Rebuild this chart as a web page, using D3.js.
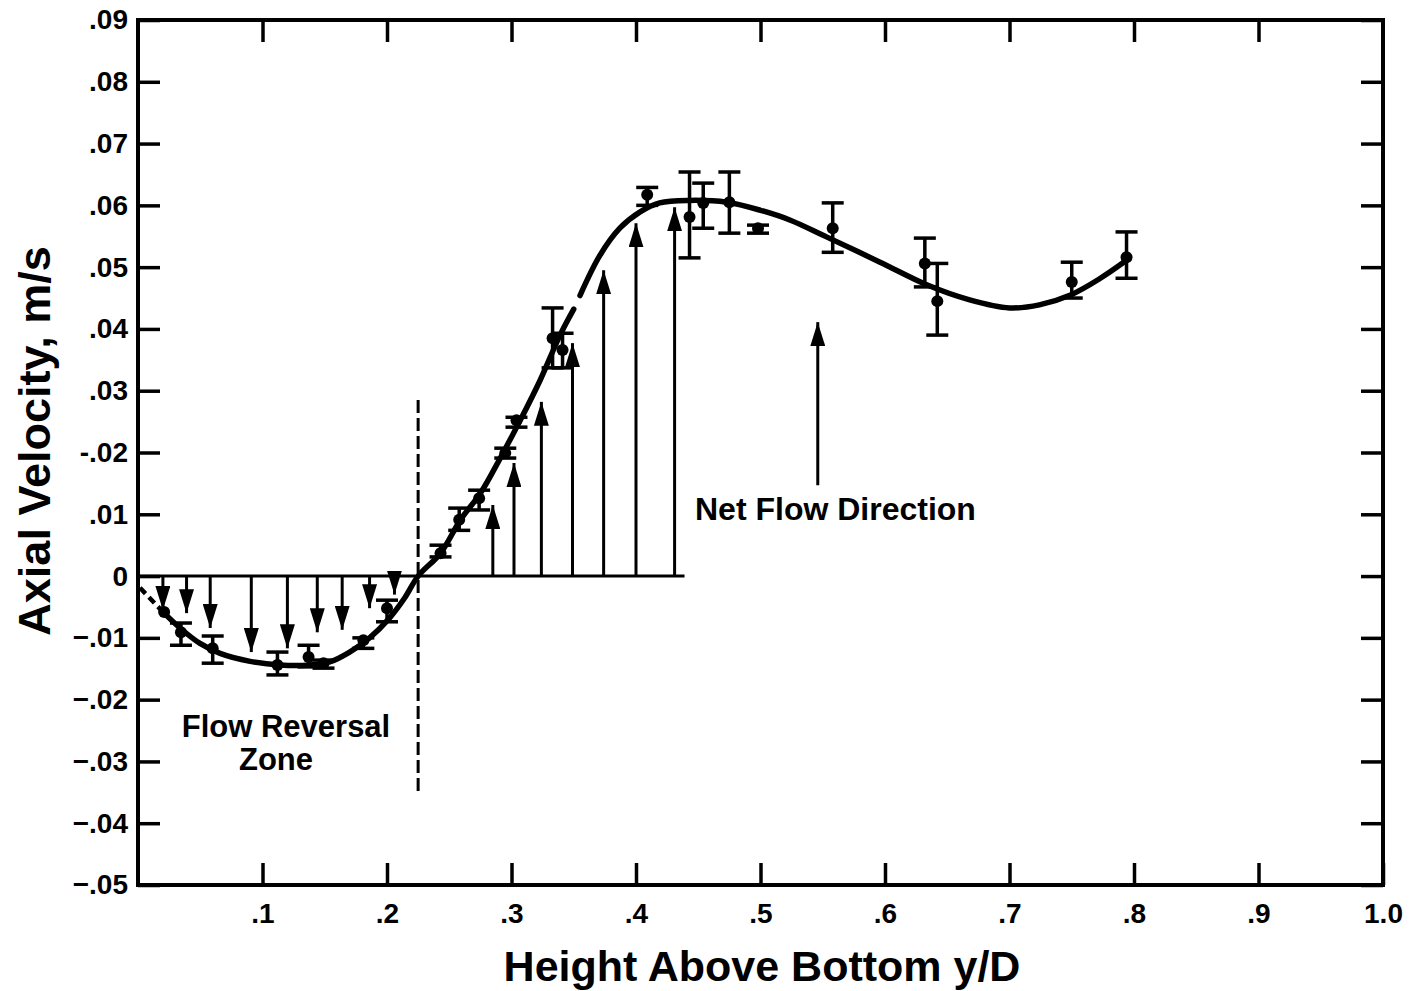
<!DOCTYPE html>
<html>
<head>
<meta charset="utf-8">
<script src="https://d3js.org/d3.v7.min.js"></script>
<style>
  body { margin: 0; background: #fff; }
  svg text { font-family: "Liberation Sans", Arial, Helvetica, sans-serif; font-weight: bold; fill: #000; }
  .tick line { stroke: #000; stroke-width: 3.5; }
  .tick text { font-size: 28px; }
  .domain { display: none; }
</style>
</head>
<body>
<svg width="1417" height="991"></svg>
<script>
// axis ticks
var xTicks = [.1, .2, .3, .4, .5, .6, .7, .8, .9, 1.0];
var xTickLabels = [".1", ".2", ".3", ".4", ".5", ".6", ".7", ".8", ".9", "1.0"];
var yTicks = [.09, .08, .07, .06, .05, .04, .03, .02, .01, 0, -.01, -.02, -.03, -.04, -.05];
var yTickLabels = [".09", ".08", ".07", ".06", ".05", ".04", ".03", "-.02", ".01", "0",
                   "\u2212.01", "\u2212.02", "\u2212.03", "\u2212.04", "\u2212.05"];

// measured points (y/D, velocity, error bar low/high)
var ptX  = [0.021, 0.0345, 0.060, 0.112, 0.137, 0.149, 0.181, 0.200, 0.243, 0.258, 0.274, 0.295, 0.304,
            0.333, 0.341, 0.409, 0.443, 0.454, 0.475, 0.498, 0.558, 0.632, 0.642, 0.750, 0.794];
var ptV  = [-0.0058, -0.0091, -0.0117, -0.0144, -0.0131, -0.0141, -0.0104, -0.0052, 0.0037, 0.0091, 0.0126, 0.0199, 0.0252,
            0.0385, 0.0366, 0.0617, 0.0581, 0.0604, 0.0605, 0.0563, 0.0563, 0.0506, 0.0445, 0.0476, 0.0516];
var ptLo = [null, -0.0112, -0.0141, -0.0160, -0.0147, -0.0149, -0.0117, -0.0074, 0.0031, 0.0074, 0.0107, 0.0191, 0.0241,
            0.0337, 0.0337, 0.0600, 0.0515, 0.0563, 0.0555, 0.0555, 0.0524, 0.0468, 0.0390, 0.0450, 0.0482];
var ptHi = [null, -0.0076, -0.0097, -0.0123, -0.0112, -0.0136, -0.0100, -0.0039, 0.0050, 0.0110, 0.0139, 0.0207, 0.0257,
            0.0434, 0.0393, 0.0629, 0.0654, 0.0636, 0.0654, 0.0568, 0.0604, 0.0547, 0.0506, 0.0508, 0.0557];

// fitted curve (null marks the small break in the line)
var curveX = [0.020, 0.0337, 0.0498, 0.0659, 0.090, 0.114, 0.138, 0.154, 0.170, 0.186, 0.202, 0.214, 0.225,
              0.243, 0.259, 0.275, 0.291, 0.307, 0.323, 0.339, 0.350, null, 0.355, 0.371, 0.387, 0.403, 0.419,
              0.443, 0.473, 0.500, 0.524, 0.553, 0.596, 0.634, 0.668, 0.700, 0.724, 0.749, 0.773, 0.794];
var curveV = [-0.0058, -0.0084, -0.0109, -0.0125, -0.0138, -0.0144, -0.0144, -0.0139, -0.0123, -0.0100, -0.0068, -0.0036, 0,
              0.0037, 0.0091, 0.0134, 0.0191, 0.0252, 0.0317, 0.0390, 0.0432, null, 0.0454, 0.0519, 0.0563, 0.0589, 0.0604,
              0.0608, 0.0605, 0.0592, 0.0576, 0.0549, 0.0508, 0.0471, 0.0447, 0.0434, 0.0439, 0.0455, 0.0482, 0.0511];
var dashX = [0.0016, 0.020];
var dashV = [-0.0019, -0.0058];

// velocity arrows from the zero line
var downX = [0.020, 0.039, 0.058, 0.091, 0.120, 0.144, 0.164, 0.186, 0.206];
var downV = [-0.0055, -0.0060, -0.0084, -0.0123, -0.0117, -0.0091, -0.0087, -0.0052, -0.0030];
var upX = [0.285, 0.302, 0.324, 0.349, 0.374, 0.400, 0.431];
var upV = [0.0115, 0.0183, 0.0282, 0.0377, 0.0495, 0.0571, 0.0597];
var zeroLineEnd = 0.439;

var reversalX = 0.225, reversalTop = 0.0285, reversalBottom = -0.0354;
var netArrowX = 0.546, netArrowFrom = 0.0147, netArrowTo = 0.0411;

var svg = d3.select("svg");
var x = d3.scaleLinear().domain([0, 1]).range([138, 1383]);
var y = d3.scaleLinear().domain([-0.05, 0.09]).range([885, 20]);

var defs = svg.append("defs");
defs.append("marker")
    .attr("id", "head")
    .attr("markerUnits", "userSpaceOnUse")
    .attr("viewBox", "0 0 24 15")
    .attr("refX", 24).attr("refY", 7.5)
    .attr("markerWidth", 24).attr("markerHeight", 15)
    .attr("orient", "auto")
  .append("path")
    .attr("d", "M0,0 L24,7.5 L0,15 Z")
    .attr("fill", "#000");

// axes with inward ticks
svg.append("g")
    .attr("transform", "translate(" + x(0) + ",0)")
    .call(d3.axisLeft(y).tickValues(yTicks).tickSize(-22).tickPadding(10)
        .tickFormat(function(d, i) { return yTickLabels[i]; }));
svg.append("g")
    .attr("transform", "translate(" + x(1) + ",0)")
    .call(d3.axisRight(y).tickValues(yTicks).tickSize(-22).tickFormat(""));
svg.append("g")
    .attr("transform", "translate(0," + y(0.09) + ")")
    .call(d3.axisTop(x).tickValues(xTicks.slice(0, 9)).tickSize(-22).tickFormat(""));
svg.append("g")
    .attr("transform", "translate(0," + y(-0.05) + ")")
    .call(d3.axisBottom(x).tickValues(xTicks).tickSize(-22).tickPadding(18)
        .tickFormat(function(d, i) { return xTickLabels[i]; }));

svg.append("rect")
    .attr("x", x(0)).attr("y", y(0.09))
    .attr("width", x(1) - x(0)).attr("height", y(-0.05) - y(0.09))
    .attr("fill", "none").attr("stroke", "#000").attr("stroke-width", 4);

// zero line and arrows
svg.append("line")
    .attr("x1", x(0)).attr("x2", x(zeroLineEnd))
    .attr("y1", y(0)).attr("y2", y(0))
    .attr("stroke", "#000").attr("stroke-width", 3);

var arrows = downX.map(function(d, i) { return { x: d, v: downV[i] }; })
    .concat(upX.map(function(d, i) { return { x: d, v: upV[i] }; }));
svg.selectAll(".flow")
    .data(arrows)
    .enter().append("line")
    .attr("class", "flow")
    .attr("x1", function(d) { return x(d.x); })
    .attr("x2", function(d) { return x(d.x); })
    .attr("y1", y(0))
    .attr("y2", function(d) { return y(d.v); })
    .attr("stroke", "#000").attr("stroke-width", 3)
    .attr("marker-end", "url(#head)");

svg.append("line")
    .attr("x1", x(netArrowX)).attr("x2", x(netArrowX))
    .attr("y1", y(netArrowFrom)).attr("y2", y(netArrowTo))
    .attr("stroke", "#000").attr("stroke-width", 3)
    .attr("marker-end", "url(#head)");

// flow reversal boundary
svg.append("line")
    .attr("x1", x(reversalX)).attr("x2", x(reversalX))
    .attr("y1", y(reversalTop)).attr("y2", y(reversalBottom))
    .attr("stroke", "#000").attr("stroke-width", 3)
    .attr("stroke-dasharray", "13,5");

// fitted curve
var curveData = curveX.map(function(d, i) { return { x: d, v: curveV[i] }; });
var line = d3.line()
    .defined(function(d) { return d.x !== null; })
    .x(function(d) { return x(d.x); })
    .y(function(d) { return y(d.v); })
    .curve(d3.curveCatmullRom);
svg.append("path")
    .datum(curveData)
    .attr("d", line)
    .attr("fill", "none").attr("stroke", "#000").attr("stroke-width", 5.5)
    .attr("stroke-linecap", "round");
svg.append("path")
    .datum(dashX.map(function(d, i) { return { x: d, v: dashV[i] }; }))
    .attr("d", line)
    .attr("fill", "none").attr("stroke", "#000").attr("stroke-width", 4.5)
    .attr("stroke-dasharray", "8,5");

// error bars and points
var pts = ptX.map(function(d, i) { return { x: d, v: ptV[i], lo: ptLo[i], hi: ptHi[i] }; });
var bars = svg.selectAll(".bar")
    .data(pts.filter(function(d) { return d.lo !== null; }))
    .enter().append("g").attr("class", "bar")
    .attr("stroke", "#000").attr("stroke-width", 3.5);
bars.append("line")
    .attr("x1", function(d) { return x(d.x); }).attr("x2", function(d) { return x(d.x); })
    .attr("y1", function(d) { return y(d.lo); }).attr("y2", function(d) { return y(d.hi); });
bars.append("line")
    .attr("x1", function(d) { return x(d.x) - 11; }).attr("x2", function(d) { return x(d.x) + 11; })
    .attr("y1", function(d) { return y(d.lo); }).attr("y2", function(d) { return y(d.lo); });
bars.append("line")
    .attr("x1", function(d) { return x(d.x) - 11; }).attr("x2", function(d) { return x(d.x) + 11; })
    .attr("y1", function(d) { return y(d.hi); }).attr("y2", function(d) { return y(d.hi); });

svg.selectAll(".pt")
    .data(pts)
    .enter().append("circle")
    .attr("class", "pt")
    .attr("cx", function(d) { return x(d.x); })
    .attr("cy", function(d) { return y(d.v); })
    .attr("r", 6)
    .attr("fill", "#000");

// annotations
svg.append("text")
    .attr("x", 695).attr("y", 520)
    .style("font-size", "32px")
    .text("Net Flow Direction");
svg.append("text")
    .attr("x", 286).attr("y", 737)
    .attr("text-anchor", "middle")
    .style("font-size", "31px")
    .text("Flow Reversal");
svg.append("text")
    .attr("x", 276).attr("y", 770)
    .attr("text-anchor", "middle")
    .style("font-size", "31px")
    .text("Zone");

// axis titles
svg.append("text")
    .attr("x", 762).attr("y", 981)
    .attr("text-anchor", "middle")
    .style("font-size", "43px")
    .text("Height Above Bottom y/D");
svg.append("text")
    .attr("transform", "translate(50,441) rotate(-90)")
    .attr("text-anchor", "middle")
    .style("font-size", "45px")
    .text("Axial Velocity, m/s");
</script>
</body>
</html>
